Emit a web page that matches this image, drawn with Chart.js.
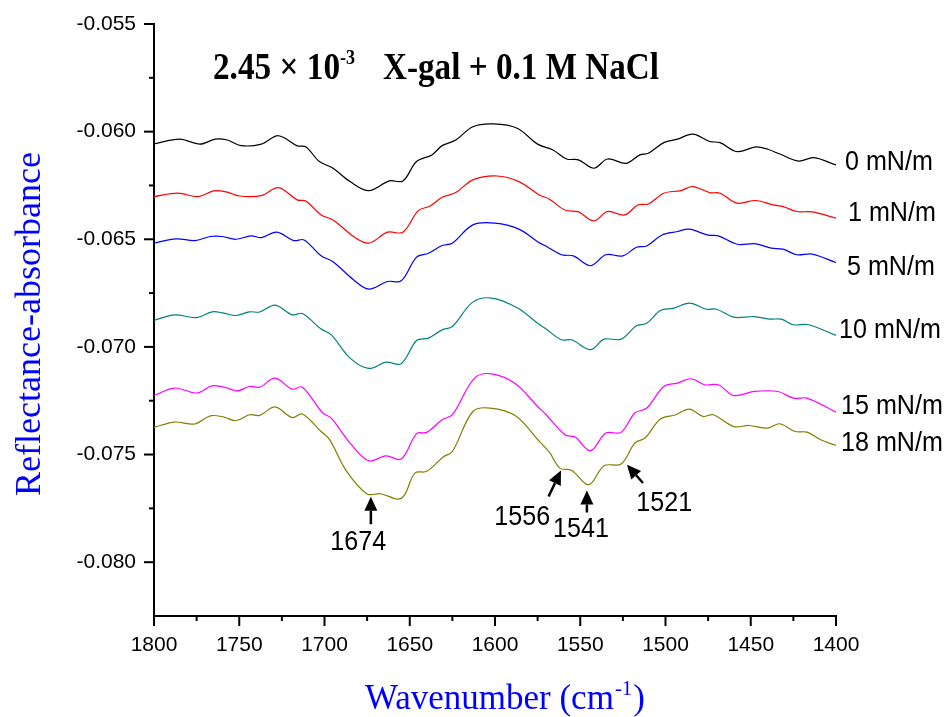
<!DOCTYPE html>
<html>
<head>
<meta charset="utf-8">
<script src="https://cdn.jsdelivr.net/npm/chart.js@4.4.1/dist/chart.umd.min.js"></script>
<style>
  html, body { margin: 0; padding: 0; background: #fff; }
  #wrap { width: 950px; height: 717px; }
</style>
</head>
<body>
<div id="wrap"><canvas id="grafico" width="950" height="717"></canvas></div>
<script>
// datos
const presiones = ["0 mN/m", "1 mN/m", "5 mN/m", "10 mN/m", "15 mN/m", "18 mN/m"];
const colores = ["#000000", "#ff0000", "#0000ff", "#008080", "#ff00ff", "#808000"];

const wn0 = [1800, 1785, 1773, 1764, 1757, 1749, 1737, 1727, 1716, 1711, 1703, 1695, 1685, 1674, 1662, 1654, 1646, 1637, 1631, 1623, 1613, 1601, 1587, 1575, 1566, 1558, 1551, 1542, 1534, 1523, 1515, 1510, 1501, 1493, 1484, 1474, 1468, 1458, 1447, 1440, 1433, 1422, 1413, 1400];
const ra0 = [-0.06057, -0.06035, -0.06058, -0.06035, -0.06039, -0.06065, -0.06058, -0.06019, -0.06066, -0.06070, -0.06139, -0.06170, -0.06232, -0.06274, -0.06229, -0.06229, -0.06139, -0.06108, -0.06065, -0.06039, -0.05977, -0.05964, -0.05984, -0.06058, -0.06085, -0.06127, -0.06131, -0.06170, -0.06127, -0.06147, -0.06108, -0.06100, -0.06051, -0.06035, -0.06012, -0.06046, -0.06051, -0.06093, -0.06071, -0.06082, -0.06104, -0.06137, -0.06121, -0.06155];

const wn1 = [1800, 1786, 1774, 1765, 1757, 1750, 1737, 1727, 1716, 1711, 1702, 1695, 1683, 1674, 1663, 1654, 1645, 1638, 1631, 1623, 1613, 1599, 1586, 1574, 1568, 1559, 1551, 1542, 1534, 1524, 1516, 1510, 1501, 1491, 1484, 1474, 1468, 1458, 1447, 1437, 1431, 1423, 1414, 1400];
const ra1 = [-0.06302, -0.06286, -0.06302, -0.06275, -0.06281, -0.06299, -0.06297, -0.06260, -0.06317, -0.06322, -0.06387, -0.06410, -0.06487, -0.06518, -0.06467, -0.06467, -0.06367, -0.06345, -0.06305, -0.06283, -0.06224, -0.06206, -0.06232, -0.06294, -0.06314, -0.06364, -0.06373, -0.06415, -0.06371, -0.06387, -0.06340, -0.06336, -0.06286, -0.06274, -0.06255, -0.06283, -0.06286, -0.06332, -0.06320, -0.06340, -0.06348, -0.06371, -0.06373, -0.06402];

const wn5 = [1800, 1787, 1776, 1767, 1760, 1752, 1743, 1737, 1728, 1718, 1712, 1702, 1695, 1683, 1674, 1663, 1655, 1646, 1639, 1631, 1625, 1613, 1600, 1586, 1575, 1569, 1561, 1554, 1544, 1535, 1525, 1517, 1511, 1502, 1493, 1486, 1475, 1469, 1458, 1447, 1438, 1431, 1423, 1414, 1400];
const ra5 = [-0.06518, -0.06498, -0.06506, -0.06487, -0.06487, -0.06500, -0.06484, -0.06492, -0.06467, -0.06506, -0.06503, -0.06577, -0.06604, -0.06688, -0.06732, -0.06696, -0.06693, -0.06583, -0.06565, -0.06529, -0.06518, -0.06433, -0.06425, -0.06453, -0.06511, -0.06537, -0.06572, -0.06577, -0.06623, -0.06572, -0.06577, -0.06537, -0.06531, -0.06480, -0.06464, -0.06453, -0.06481, -0.06484, -0.06523, -0.06521, -0.06541, -0.06546, -0.06572, -0.06569, -0.06608];

const wn10 = [1800, 1788, 1775, 1766, 1759, 1752, 1744, 1738, 1729, 1719, 1713, 1702, 1696, 1685, 1674, 1664, 1655, 1646, 1639, 1631, 1625, 1613, 1602, 1587, 1575, 1570, 1561, 1555, 1544, 1536, 1526, 1517, 1511, 1503, 1495, 1486, 1476, 1470, 1460, 1448, 1439, 1432, 1425, 1416, 1400];
const ra10 = [-0.06877, -0.06851, -0.06864, -0.06837, -0.06843, -0.06854, -0.06837, -0.06838, -0.06806, -0.06851, -0.06845, -0.06917, -0.06944, -0.07052, -0.07100, -0.07071, -0.07078, -0.06970, -0.06959, -0.06921, -0.06905, -0.06792, -0.06773, -0.06818, -0.06890, -0.06917, -0.06967, -0.06967, -0.07013, -0.06964, -0.06964, -0.06902, -0.06890, -0.06831, -0.06820, -0.06797, -0.06825, -0.06825, -0.06862, -0.06859, -0.06871, -0.06871, -0.06897, -0.06897, -0.06947];

const wn15 = [1800, 1788, 1775, 1766, 1759, 1751, 1744, 1738, 1729, 1719, 1713, 1701, 1696, 1685, 1674, 1664, 1655, 1646, 1640, 1631, 1625, 1612, 1602, 1588, 1575, 1570, 1559, 1553, 1544, 1535, 1526, 1518, 1511, 1501, 1493, 1485, 1477, 1469, 1460, 1448, 1434, 1425, 1417, 1400];
const ra15 = [-0.07226, -0.07191, -0.07214, -0.07181, -0.07187, -0.07204, -0.07184, -0.07187, -0.07145, -0.07196, -0.07187, -0.07307, -0.07331, -0.07447, -0.07529, -0.07506, -0.07521, -0.07403, -0.07397, -0.07338, -0.07315, -0.07145, -0.07125, -0.07171, -0.07277, -0.07315, -0.07408, -0.07419, -0.07482, -0.07400, -0.07397, -0.07307, -0.07284, -0.07184, -0.07168, -0.07148, -0.07176, -0.07176, -0.07226, -0.07207, -0.07207, -0.07238, -0.07238, -0.07303];

const wn18 = [1800, 1788, 1776, 1767, 1759, 1752, 1744, 1738, 1729, 1719, 1713, 1702, 1697, 1687, 1675, 1667, 1657, 1653, 1647, 1640, 1630, 1625, 1613, 1603, 1588, 1574, 1568, 1562, 1555, 1545, 1536, 1526, 1518, 1512, 1503, 1494, 1486, 1478, 1472, 1460, 1451, 1440, 1433, 1424, 1417, 1409, 1400];
const ra18 = [-0.07374, -0.07349, -0.07358, -0.07320, -0.07326, -0.07343, -0.07315, -0.07318, -0.07279, -0.07328, -0.07312, -0.07393, -0.07431, -0.07578, -0.07683, -0.07682, -0.07707, -0.07687, -0.07586, -0.07578, -0.07509, -0.07486, -0.07300, -0.07284, -0.07320, -0.07439, -0.07490, -0.07563, -0.07574, -0.07640, -0.07552, -0.07544, -0.07447, -0.07423, -0.07335, -0.07315, -0.07289, -0.07323, -0.07315, -0.07370, -0.07365, -0.07377, -0.07357, -0.07393, -0.07396, -0.07431, -0.07458];

const numerosPicos = ["1674", "1556", "1541", "1521"];

const series = [
  [wn0, ra0],
  [wn1, ra1],
  [wn5, ra5],
  [wn10, ra10],
  [wn15, ra15],
  [wn18, ra18],
];

// estilo / posiciones de anotaciones
const SANS = "Arial, 'Liberation Sans', sans-serif";
const SERIF = "'Times New Roman', 'Liberation Serif', serif";
const ajusteEtiquetas = [
  [9, -2],
  [12, -5],
  [11, 5],
  [3, -5],
  [5, -6],
  [5, -2],
];
// punta de flecha (wn, valor), cola relativa, etiqueta relativa
const flechas = [
  { punta: [1672.8, -0.07696], cola: [0, 27.5], texto: [-12.7, 53] },
  { punta: [1561.3, -0.07574], cola: [-12.4, 26], texto: [-38.7, 54.3] },
  { punta: [1546.1, -0.07667], cola: [0, 22], texto: [-5.9, 46.6] },
  { punta: [1522.6, -0.07547], cola: [16, 18.3], texto: [37.3, 46.7] },
];

function textoAncho(ctx, texto, x, y, ancho) {
  const w = ctx.measureText(texto).width;
  ctx.save();
  ctx.translate(x, y);
  if (ancho) ctx.scale(ancho / w, 1);
  ctx.fillText(texto, 0, 0);
  ctx.restore();
}

function textoEscalado(ctx, texto, x, y, sx) {
  ctx.save();
  ctx.translate(x, y);
  ctx.scale(sx, 1);
  ctx.fillText(texto, 0, 0);
  ctx.restore();
}

function dibujarFlecha(ctx, x1, y1, x2, y2) {
  const ang = Math.atan2(y2 - y1, x2 - x1);
  const largo = 14;
  const medio = 6.5;
  const bx = x2 - largo * Math.cos(ang);
  const by = y2 - largo * Math.sin(ang);
  ctx.beginPath();
  ctx.moveTo(x1, y1);
  ctx.lineTo(bx, by);
  ctx.lineWidth = 2.5;
  ctx.stroke();
  ctx.beginPath();
  ctx.moveTo(x2, y2);
  ctx.lineTo(bx + medio * Math.sin(ang), by - medio * Math.cos(ang));
  ctx.lineTo(bx - medio * Math.sin(ang), by + medio * Math.cos(ang));
  ctx.closePath();
  ctx.fill();
}

const esMayor = (v, paso) => Math.abs(Math.round(v / paso) * paso - v) < 1e-9;

const extras = {
  id: "extras",
  afterDraw(chart) {
    const ctx = chart.ctx;
    const ejeX = chart.scales.x;
    const ejeY = chart.scales.y;
    const area = chart.chartArea;
    ctx.save();
    ctx.strokeStyle = "#000";
    ctx.fillStyle = "#000";
    ctx.lineWidth = 2;

    // ticks mayores y menores
    ejeX.ticks.forEach((t) => {
      const px = ejeX.getPixelForValue(t.value);
      const l = esMayor(t.value, 50) ? 10 : 5;
      ctx.beginPath();
      ctx.moveTo(px, area.bottom);
      ctx.lineTo(px, area.bottom + l);
      ctx.stroke();
    });
    ejeY.ticks.forEach((t) => {
      if (t.value < -0.0824) return;
      const py = ejeY.getPixelForValue(t.value);
      const l = esMayor(t.value, 0.005) ? 10 : 5;
      ctx.beginPath();
      ctx.moveTo(area.left, py);
      ctx.lineTo(area.left - l, py);
      ctx.stroke();
    });

    // etiquetas de cada curva
    ctx.font = "27px " + SANS;
    ctx.textBaseline = "middle";
    ctx.textAlign = "left";
    chart.data.datasets.forEach((ds, i) => {
      const ult = ds.data[ds.data.length - 1];
      const py = ejeY.getPixelForValue(ult.y);
      textoEscalado(ctx, presiones[i], area.right + ajusteEtiquetas[i][0], py + ajusteEtiquetas[i][1], 0.93);
    });

    // flechas de picos
    ctx.textBaseline = "alphabetic";
    ctx.textAlign = "center";
    flechas.forEach((f, i) => {
      const tx = ejeX.getPixelForValue(f.punta[0]);
      const ty = ejeY.getPixelForValue(f.punta[1]);
      dibujarFlecha(ctx, tx + f.cola[0], ty + f.cola[1], tx, ty);
      textoEscalado(ctx, numerosPicos[i], tx + f.texto[0], ty + f.texto[1], 0.93);
    });

    // titulo
    ctx.textAlign = "left";
    ctx.font = "bold 37px " + SERIF;
    textoAncho(ctx, "2.45 \u00d7 10", 213, 79, 127);
    ctx.font = "bold 21px " + SERIF;
    textoAncho(ctx, "-3", 340, 64, 15);
    ctx.font = "bold 37px " + SERIF;
    textoAncho(ctx, "X-gal + 0.1 M NaCl", 383, 79, 276);

    // titulos de ejes
    ctx.fillStyle = "#0000ff";
    ctx.font = "35px " + SERIF;
    let x = 365;
    ctx.fillText("Wavenumber (cm", x, 709);
    x += ctx.measureText("Wavenumber (cm").width;
    ctx.font = "21px " + SERIF;
    ctx.fillText("-1", x + 1, 695);
    x += ctx.measureText("-1").width + 2;
    ctx.font = "35px " + SERIF;
    ctx.fillText(")", x, 709);

    ctx.save();
    ctx.translate(40, 324);
    ctx.rotate(-Math.PI / 2);
    ctx.textAlign = "center";
    ctx.font = "36px " + SERIF;
    ctx.fillText("Reflectance-absorbance", 0, 0);
    ctx.restore();

    ctx.restore();
  },
};

const grafico = new Chart(document.getElementById("grafico"), {
  type: "scatter",
  data: {
    datasets: series.map((s, i) => ({
      label: presiones[i],
      data: s[0].map((w, k) => ({ x: w, y: s[1][k] })),
      showLine: true,
      borderColor: colores[i],
      borderWidth: 1.2,
      pointRadius: 0,
      tension: 0.35,
      fill: false,
    })),
  },
  options: {
    responsive: false,
    animation: false,
    layout: { padding: { top: 24, right: 114, left: 0, bottom: 0 } },
    plugins: {
      legend: { display: false },
      tooltip: { enabled: false },
      title: { display: false },
    },
    scales: {
      x: {
        type: "linear",
        reverse: true,
        min: 1400,
        max: 1800,
        border: { display: true, color: "#000", width: 2 },
        grid: { drawOnChartArea: false, drawTicks: true, tickLength: 10, color: "rgba(0,0,0,0)" },
        ticks: {
          stepSize: 25,
          autoSkip: false,
          maxRotation: 0,
          padding: 7,
          color: "#000",
          font: { family: SANS, size: 21 },
          callback: (v) => (esMayor(v, 50) ? String(v) : ""),
        },
        afterFit: (s) => {
          s.height = 101;
        },
      },
      y: {
        type: "linear",
        min: -0.0825,
        max: -0.055,
        border: { display: true, color: "#000", width: 2 },
        grid: { drawOnChartArea: false, drawTicks: true, tickLength: 10, color: "rgba(0,0,0,0)" },
        ticks: {
          stepSize: 0.0025,
          autoSkip: false,
          padding: 8,
          color: "#000",
          font: { family: SANS, size: 21 },
          callback: (v) => (esMayor(v, 0.005) && v > -0.0824 ? v.toFixed(3) : ""),
        },
        afterFit: (s) => {
          s.width = 154;
        },
      },
    },
  },
  plugins: [extras],
});
</script>
</body>
</html>
